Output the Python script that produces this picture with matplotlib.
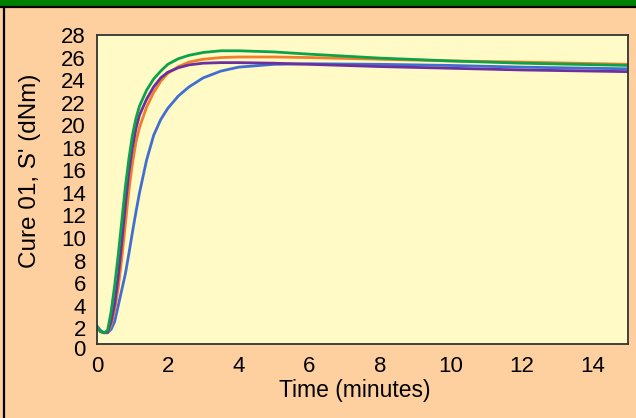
import matplotlib
matplotlib.use('Agg')
import matplotlib.pyplot as plt
from matplotlib.patches import Rectangle
from matplotlib.lines import Line2D
import matplotlib.transforms as mtransforms

plt.rcParams.update({
    'font.family': ['Liberation Sans', 'DejaVu Sans'],
    'font.size': 16,
})

# ---- data ----
time_min = [0, 0.1, 0.2, 0.3, 0.4, 0.5, 0.6, 0.7, 0.8, 0.9, 1.0, 1.1, 1.2, 1.4,
            1.6, 1.8, 2.0, 2.3, 2.6, 3.0, 3.5, 4.0, 5.0, 6.0, 8.0, 10.0, 12.0, 15.0]

cure_blue = [2.2, 1.8, 1.6, 1.6, 1.9, 2.6, 4.0, 5.4, 6.8, 8.6, 10.5, 12.3, 14.0, 16.9,
             19.1, 20.5, 21.5, 22.6, 23.4, 24.2, 24.8, 25.15, 25.4, 25.45, 25.4,
             25.3, 25.15, 25.0]
cure_orange = [2.1, 1.7, 1.6, 1.6, 2.3, 3.6, 5.6, 8.2, 11.2, 14.2, 16.6, 18.5, 19.8, 21.6,
               22.9, 23.9, 24.6, 25.2, 25.6, 25.85, 26.0, 26.05, 26.05, 26.0, 25.85,
               25.7, 25.6, 25.4]
cure_purple = [2.1, 1.7, 1.6, 1.65, 2.6, 4.2, 6.6, 9.6, 12.9, 15.8, 18.0, 19.7, 20.9, 22.3,
               23.4, 24.2, 24.7, 25.1, 25.35, 25.5, 25.55, 25.55, 25.5, 25.4, 25.2,
               25.05, 24.9, 24.75]
cure_green = [2.1, 1.7, 1.6, 1.8, 3.5, 5.8, 8.5, 11.5, 14.5, 17.0, 19.1, 20.6, 21.7, 23.1,
              24.1, 24.8, 25.4, 25.9, 26.2, 26.45, 26.6, 26.6, 26.5, 26.3, 25.95,
              25.7, 25.5, 25.3]

x_ticks = [0, 2, 4, 6, 8, 10, 12, 14]
y_ticks = list(range(0, 29, 2))

PEACH = '#FED09F'
PLOT_BG = '#FFFAC6'

fig = plt.figure(figsize=(6.36, 4.18), dpi=100, facecolor=PEACH)
W, H = 636, 418

# header band and frame lines
fig.patches.append(Rectangle((0, 1 - 6 / H), 1, 6 / H, transform=fig.transFigure,
                             facecolor='#008000', edgecolor='none', zorder=0))
fig.lines.append(Line2D([0, 1], [1 - 7 / H, 1 - 7 / H], transform=fig.transFigure,
                        color='black', lw=1.6))
fig.lines.append(Line2D([4 / W, 4 / W], [0, 1 - 7 / H], transform=fig.transFigure,
                        color='black', lw=1.6))

ax = fig.add_axes([97 / W, 1 - 344 / H, (628 - 97) / W, (344 - 35) / H])
ax.set_facecolor(PLOT_BG)

for vals, col in [(cure_blue, '#3F6FD1'), (cure_orange, '#F07E2A'),
                  (cure_purple, '#6B2FA0'), (cure_green, '#0BA34A')]:
    ax.plot(time_min, vals, color=col, lw=2.0, solid_capstyle='round')

ax.set_xlim(0, 15)
ax.set_ylim(0.6, 28)
ax.set_xticks(x_ticks)
ax.set_yticks(y_ticks[1:])
ax.tick_params(length=0, labelsize=16)
ax.tick_params(axis='x', pad=9)
ax.tick_params(axis='y', pad=8)
# the zero label sits below the plot frame in the original
trans = mtransforms.blended_transform_factory(ax.transAxes, ax.transData)
ax.text(-11 / (628 - 97), 0, '0', transform=trans, ha='right', va='center',
        fontsize=16, clip_on=False)

for s in ax.spines.values():
    s.set_color('#333333')
    s.set_linewidth(1.3)

fig.text(30 / W, 1 - 171 / H, "Cure 01, S' (dNm)", rotation=90,
         ha='center', va='center', fontsize=17.5)
fig.text(355 / W, 1 - 391 / H, 'Time (minutes)', ha='center', va='center',
         fontsize=16.5)

fig.savefig('out.png', dpi=100, facecolor=PEACH)
